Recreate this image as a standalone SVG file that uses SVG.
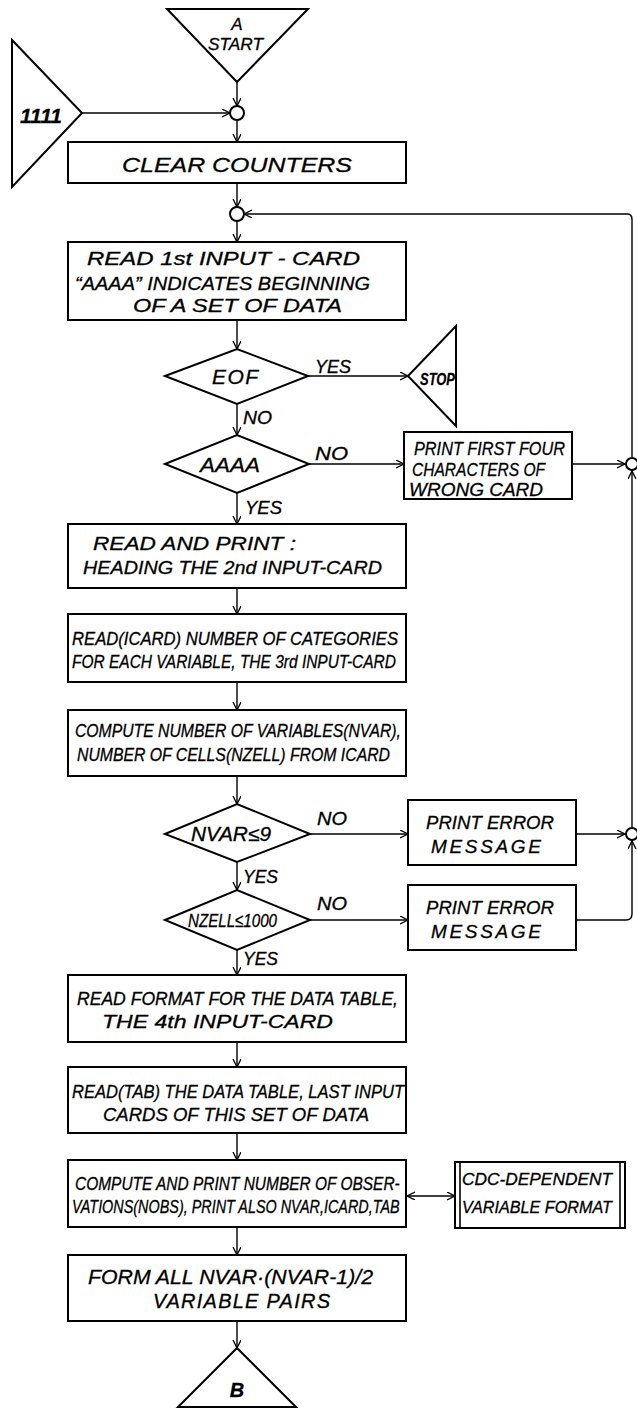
<svg xmlns="http://www.w3.org/2000/svg" width="637" height="1410" viewBox="0 0 637 1410">
<style>
.s{fill:#fff;stroke:#000;stroke-width:2}
.c{fill:none;stroke:#000;stroke-width:1.4}
.t{font-family:"Liberation Sans",Arial,sans-serif;font-style:italic;font-size:18px;fill:#000;stroke:#000;stroke-width:0.3}
.b{font-weight:bold}
.l{font-size:18px}
.m{font-size:20px}
</style>
<defs>
<marker id="ah" markerWidth="10" markerHeight="10" refX="8" refY="4" orient="auto-start-reverse" markerUnits="userSpaceOnUse">
<path d="M0,0 L8,4 L0,8" fill="none" stroke="#000" stroke-width="1.3"/>
</marker>
</defs>
<rect width="637" height="1410" fill="#fff"/>

<g id="connectors">
<line class="c" x1="237" y1="82" x2="237" y2="106" marker-end="url(#ah)"/>
<line class="c" x1="82" y1="113" x2="230" y2="113" marker-end="url(#ah)"/>
<line class="c" x1="237" y1="120" x2="237" y2="142" marker-end="url(#ah)"/>
<line class="c" x1="237" y1="183" x2="237" y2="207" marker-end="url(#ah)"/>
<line class="c" x1="237" y1="221" x2="237" y2="242" marker-end="url(#ah)"/>
<line class="c" x1="237" y1="320" x2="237" y2="349" marker-end="url(#ah)"/>
<line class="c" x1="308" y1="376" x2="408" y2="376" marker-end="url(#ah)"/>
<line class="c" x1="237" y1="404" x2="237" y2="435" marker-end="url(#ah)"/>
<line class="c" x1="309" y1="464" x2="404" y2="464" marker-end="url(#ah)"/>
<line class="c" x1="572" y1="464" x2="625" y2="464" marker-end="url(#ah)"/>
<line class="c" x1="237" y1="493" x2="237" y2="524" marker-end="url(#ah)"/>
<line class="c" x1="237" y1="588" x2="237" y2="614" marker-end="url(#ah)"/>
<line class="c" x1="237" y1="682" x2="237" y2="710" marker-end="url(#ah)"/>
<line class="c" x1="237" y1="776" x2="237" y2="804" marker-end="url(#ah)"/>
<line class="c" x1="310" y1="834" x2="408" y2="834" marker-end="url(#ah)"/>
<line class="c" x1="576" y1="834" x2="625" y2="834" marker-end="url(#ah)"/>
<line class="c" x1="237" y1="862" x2="237" y2="890" marker-end="url(#ah)"/>
<line class="c" x1="310" y1="920" x2="408" y2="920" marker-end="url(#ah)"/>
<path class="c" d="M576,920 H626 Q632,920 632,914 V841" marker-end="url(#ah)"/>
<line class="c" x1="632" y1="827" x2="632" y2="471" marker-end="url(#ah)"/>
<path class="c" d="M632,457 V219 Q632,214 627,214 H244" marker-end="url(#ah)"/>
<line class="c" x1="237" y1="950" x2="237" y2="975" marker-end="url(#ah)"/>
<line class="c" x1="237" y1="1042" x2="237" y2="1067" marker-end="url(#ah)"/>
<line class="c" x1="237" y1="1133" x2="237" y2="1160" marker-end="url(#ah)"/>
<line class="c" x1="407" y1="1196" x2="455" y2="1196" marker-start="url(#ah)" marker-end="url(#ah)"/>
<line class="c" x1="237" y1="1227" x2="237" y2="1255" marker-end="url(#ah)"/>
<line class="c" x1="237" y1="1321" x2="237" y2="1348" marker-end="url(#ah)"/>
</g>

<g id="start">
<polygon class="s" points="167,9 308,9 237,82"/>
<text class="t" x="237" y="30" text-anchor="middle" style="font-size:17px">A</text>
<text class="t" x="208" y="50" textLength="55" lengthAdjust="spacingAndGlyphs" style="font-size:16px">START</text>
</g>
<g id="entry1111">
<polygon class="s" points="12,40 82,113 12,187"/>
<text class="t b" x="20" y="123" textLength="42" lengthAdjust="spacingAndGlyphs" style="font-size:21px">1111</text>
</g>
<g id="join1"><circle class="s" cx="237" cy="113" r="7" stroke-width="1.6"/></g>
<g id="clear">
<rect class="s" x="68" y="142" width="338" height="41"/>
<text class="t" x="122" y="172" textLength="230" lengthAdjust="spacingAndGlyphs" style="font-size:21px">CLEAR COUNTERS</text>
</g>
<g id="join2"><circle class="s" cx="237" cy="214" r="7" stroke-width="1.6"/></g>
<g id="read1">
<rect class="s" x="68" y="242" width="338" height="78"/>
<text class="t" x="87" y="265" textLength="273" lengthAdjust="spacingAndGlyphs">READ 1st INPUT - CARD</text>
<text class="t" x="75" y="290" textLength="295" lengthAdjust="spacingAndGlyphs">“AAAA” INDICATES BEGINNING</text>
<text class="t" x="133" y="312" textLength="209" lengthAdjust="spacingAndGlyphs">OF A SET OF DATA</text>
</g>
<g id="eof">
<polygon class="s" points="165,376 237,349 308,376 237,404"/>
<text class="t" x="212" y="384" textLength="46" lengthAdjust="spacing" style="font-size:21px">EOF</text>
</g>
<g id="stop">
<polygon class="s" points="408,376 456,326 456,426"/>
<text class="t b" x="420" y="385" textLength="35" lengthAdjust="spacingAndGlyphs" style="font-size:17px">STOP</text>
</g>
<g id="aaaa">
<polygon class="s" points="165,464 237,435 309,464 237,493"/>
<text class="t" x="200" y="472" textLength="60" lengthAdjust="spacingAndGlyphs" style="font-size:21px">AAAA</text>
</g>
<g id="wrongcard">
<rect class="s" x="404" y="432" width="168" height="67"/>
<text class="t" x="414" y="455" textLength="151" lengthAdjust="spacingAndGlyphs" style="font-size:19px">PRINT FIRST FOUR</text>
<text class="t" x="412" y="476" textLength="133" lengthAdjust="spacingAndGlyphs" style="font-size:19px">CHARACTERS OF</text>
<text class="t" x="409" y="496" textLength="134" lengthAdjust="spacingAndGlyphs" style="font-size:19px">WRONG CARD</text>
</g>
<g id="joinA"><circle class="s" cx="632" cy="464" r="6" stroke-width="1.6"/></g>
<g id="readprint">
<rect class="s" x="68" y="524" width="338" height="64"/>
<text class="t" x="93" y="550" textLength="203" lengthAdjust="spacingAndGlyphs" style="font-size:19px">READ AND PRINT :</text>
<text class="t" x="83" y="574" textLength="299" lengthAdjust="spacingAndGlyphs" style="font-size:19px">HEADING THE 2nd INPUT-CARD</text>
</g>
<g id="readicard">
<rect class="s" x="68" y="614" width="338" height="68"/>
<text class="t" x="72" y="645" textLength="326" lengthAdjust="spacingAndGlyphs">READ(ICARD) NUMBER OF CATEGORIES</text>
<text class="t" x="72" y="668" textLength="324" lengthAdjust="spacingAndGlyphs">FOR EACH VARIABLE, THE 3rd INPUT-CARD</text>
</g>
<g id="computenvar">
<rect class="s" x="68" y="710" width="338" height="66"/>
<text class="t" x="75" y="737" textLength="326" lengthAdjust="spacingAndGlyphs">COMPUTE NUMBER OF VARIABLES(NVAR),</text>
<text class="t" x="77" y="761" textLength="313" lengthAdjust="spacingAndGlyphs">NUMBER OF CELLS(NZELL) FROM ICARD</text>
</g>
<g id="nvar">
<polygon class="s" points="165,834 237,804 310,834 237,862"/>
<text class="t" x="191" y="841" textLength="80" lengthAdjust="spacingAndGlyphs" style="font-size:20px">NVAR≤9</text>
</g>
<g id="error1">
<rect class="s" x="408" y="800" width="168" height="65"/>
<text class="t" x="426" y="829" textLength="128" lengthAdjust="spacingAndGlyphs" style="font-size:19px">PRINT ERROR</text>
<text class="t" x="431" y="853" textLength="110" lengthAdjust="spacing" style="font-size:19px">MESSAGE</text>
</g>
<g id="joinB"><circle class="s" cx="632" cy="834" r="6" stroke-width="1.6"/></g>
<g id="nzell">
<polygon class="s" points="165,920 237,890 310,920 237,950"/>
<text class="t" x="188" y="927" textLength="89" lengthAdjust="spacingAndGlyphs" style="font-size:19px">NZELL≤1000</text>
</g>
<g id="error2">
<rect class="s" x="408" y="885" width="168" height="65"/>
<text class="t" x="426" y="914" textLength="128" lengthAdjust="spacingAndGlyphs" style="font-size:19px">PRINT ERROR</text>
<text class="t" x="431" y="938" textLength="110" lengthAdjust="spacing" style="font-size:19px">MESSAGE</text>
</g>
<g id="readformat">
<rect class="s" x="68" y="975" width="338" height="67"/>
<text class="t" x="77" y="1005" textLength="321" lengthAdjust="spacingAndGlyphs">READ FORMAT FOR THE DATA TABLE,</text>
<text class="t" x="102" y="1028" textLength="231" lengthAdjust="spacingAndGlyphs">THE 4th INPUT-CARD</text>
</g>
<g id="readtab">
<rect class="s" x="68" y="1067" width="338" height="66"/>
<text class="t" x="72" y="1098" textLength="332" lengthAdjust="spacingAndGlyphs">READ(TAB) THE DATA TABLE, LAST INPUT</text>
<text class="t" x="103" y="1121" textLength="266" lengthAdjust="spacingAndGlyphs">CARDS OF THIS SET OF DATA</text>
</g>
<g id="computenobs">
<rect class="s" x="68" y="1160" width="338" height="67"/>
<text class="t" transform="translate(75,1190) scale(0.75,1)" x="0" y="0" textLength="433" lengthAdjust="spacingAndGlyphs">COMPUTE AND PRINT NUMBER OF OBSER-</text>
<text class="t" transform="translate(72,1213) scale(0.72,1)" x="0" y="0" textLength="455" lengthAdjust="spacingAndGlyphs">VATIONS(NOBS), PRINT ALSO NVAR,ICARD,TAB</text>
</g>
<g id="cdc">
<rect class="s" x="455" y="1162" width="170" height="66"/>
<line x1="460" y1="1162" x2="460" y2="1228" stroke="#000" stroke-width="1.6"/>
<line x1="620" y1="1162" x2="620" y2="1228" stroke="#000" stroke-width="1.6"/>
<text class="t" x="462" y="1185" textLength="150" lengthAdjust="spacingAndGlyphs" style="font-size:17px">CDC-DEPENDENT</text>
<text class="t" x="462" y="1213" textLength="150" lengthAdjust="spacingAndGlyphs" style="font-size:17px">VARIABLE FORMAT</text>
</g>
<g id="pairs">
<rect class="s" x="68" y="1255" width="338" height="66"/>
<text class="t" x="88" y="1284" textLength="285" lengthAdjust="spacingAndGlyphs" style="font-size:21px">FORM ALL NVAR·(NVAR-1)/2</text>
<text class="t" x="153" y="1308" textLength="177" lengthAdjust="spacing" style="font-size:20px">VARIABLE  PAIRS</text>
</g>
<g id="endB">
<polygon class="s" points="237,1348 296,1407 178,1407"/>
<text class="t b m" x="237" y="1397" text-anchor="middle">B</text>
</g>
<g id="labels">
<text class="t l" x="315" y="373" textLength="36" lengthAdjust="spacingAndGlyphs">YES</text>
<text class="t l" x="243" y="424" textLength="29" lengthAdjust="spacingAndGlyphs">NO</text>
<text class="t l" x="315" y="460" textLength="33" lengthAdjust="spacingAndGlyphs">NO</text>
<text class="t l" x="245" y="514" textLength="37" lengthAdjust="spacingAndGlyphs">YES</text>
<text class="t l" x="317" y="825" textLength="30" lengthAdjust="spacingAndGlyphs">NO</text>
<text class="t l" x="243" y="883" textLength="35" lengthAdjust="spacingAndGlyphs">YES</text>
<text class="t l" x="317" y="910" textLength="30" lengthAdjust="spacingAndGlyphs">NO</text>
<text class="t l" x="243" y="965" textLength="35" lengthAdjust="spacingAndGlyphs">YES</text>
</g>
</svg>
